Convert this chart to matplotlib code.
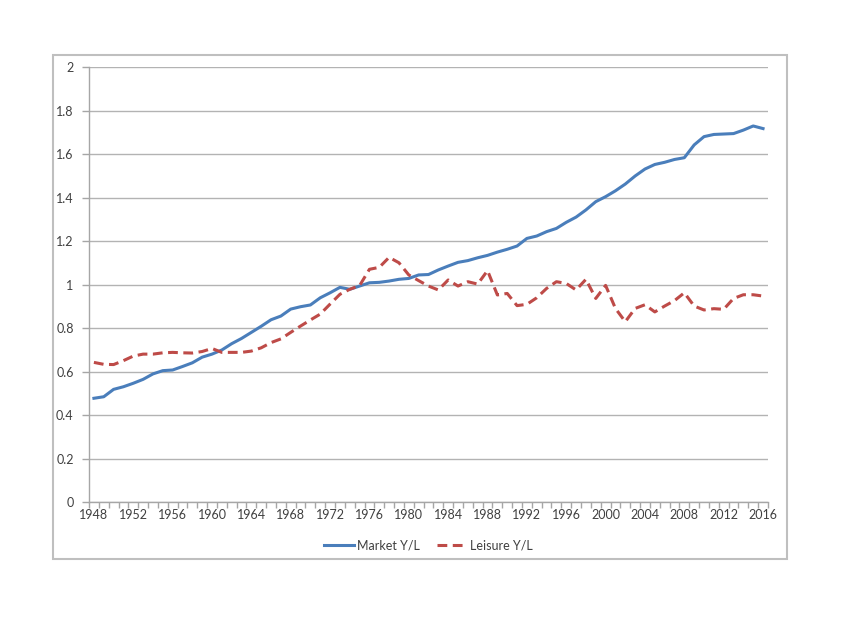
import matplotlib
matplotlib.use("Agg")
import matplotlib.pyplot as plt
from matplotlib.patches import Rectangle
from matplotlib.ticker import FixedLocator

plt.rcParams['font.family'] = ['Lato', 'DejaVu Sans']

years = list(range(1948, 2017))

market_yl = [0.477, 0.484, 0.518, 0.530, 0.546, 0.564, 0.589, 0.604, 0.607, 0.623,
             0.640, 0.666, 0.680, 0.699, 0.728, 0.752, 0.780, 0.808, 0.838, 0.855,
             0.887, 0.898, 0.906, 0.939, 0.962, 0.987, 0.978, 0.993, 1.008, 1.010,
             1.016, 1.024, 1.028, 1.044, 1.046, 1.067, 1.085, 1.102, 1.110, 1.123,
             1.134, 1.149, 1.162, 1.177, 1.212, 1.223, 1.243, 1.258, 1.286, 1.310,
             1.343, 1.381, 1.404, 1.431, 1.462, 1.499, 1.531, 1.552, 1.562, 1.575,
             1.583, 1.642, 1.680, 1.690, 1.692, 1.694, 1.710, 1.729, 1.717]

leisure_yl = [0.642, 0.633, 0.632, 0.650, 0.671, 0.680, 0.680, 0.686, 0.688, 0.686,
              0.685, 0.692, 0.706, 0.688, 0.688, 0.688, 0.694, 0.709, 0.733, 0.750,
              0.780, 0.809, 0.837, 0.864, 0.910, 0.955, 0.978, 0.995, 1.070, 1.079,
              1.125, 1.100, 1.044, 1.018, 0.993, 0.975, 1.021, 0.993, 1.013, 1.002,
              1.064, 0.952, 0.959, 0.903, 0.909, 0.939, 0.982, 1.013, 1.005, 0.975,
              1.024, 0.936, 0.996, 0.890, 0.829, 0.890, 0.907, 0.874, 0.901, 0.926,
              0.962, 0.901, 0.883, 0.889, 0.886, 0.936, 0.953, 0.953, 0.947]

label_years = list(range(1948, 2017, 4))
y_ticks = [i * 0.2 for i in range(11)]
y_labels = ['0', '0.2', '0.4', '0.6', '0.8', '1', '1.2', '1.4', '1.6', '1.8', '2']

grey = '#a6a6a6'
text_col = '#404040'

fig = plt.figure(figsize=(8.5, 6.23), dpi=100)
# chart area border
fig.patches.append(Rectangle((0.0624, 0.1027), 0.8635, 0.809, transform=fig.transFigure,
                             fill=False, edgecolor='#bfbfbf', linewidth=1.5))

ax = fig.add_axes([0.1047, 0.1942, 0.7988, 0.6982])

ax.plot(years, market_yl, color='#4a7ebb', linewidth=2.2, label='Market Y/L')
ax.plot(years, leisure_yl, color='#be4b48', linewidth=2.2, dashes=(3.2, 1.8), label='Leisure Y/L')

ax.set_xlim(1947.5, 2016.5)
ax.set_ylim(0, 2)
ax.set_yticks(y_ticks)
ax.set_yticklabels(y_labels)
ax.set_xticks(label_years)
ax.set_xticklabels([str(y) for y in label_years])
ax.xaxis.set_minor_locator(FixedLocator([y - 0.5 for y in years] + [2016.5]))
ax.tick_params(axis='x', which='major', length=0, pad=5, labelsize=9, labelcolor=text_col)
ax.tick_params(axis='x', which='minor', length=4, color=grey, width=1)
ax.tick_params(axis='y', length=5, color=grey, width=1, pad=6, labelsize=9, labelcolor=text_col)

ax.grid(axis='y', color='#b3b3b3', linewidth=1)
ax.set_axisbelow(True)
for s in ['top', 'right']:
    ax.spines[s].set_visible(False)
for s in ['left', 'bottom']:
    ax.spines[s].set_color(grey)
    ax.spines[s].set_linewidth(1)

ax.legend(loc='upper center', bbox_to_anchor=(0.5, -0.06), ncol=2, frameon=False,
          fontsize=9, handlelength=2.4, columnspacing=1.4, handletextpad=0.2,
          labelcolor=text_col)

fig.savefig('out.png', dpi=100)
